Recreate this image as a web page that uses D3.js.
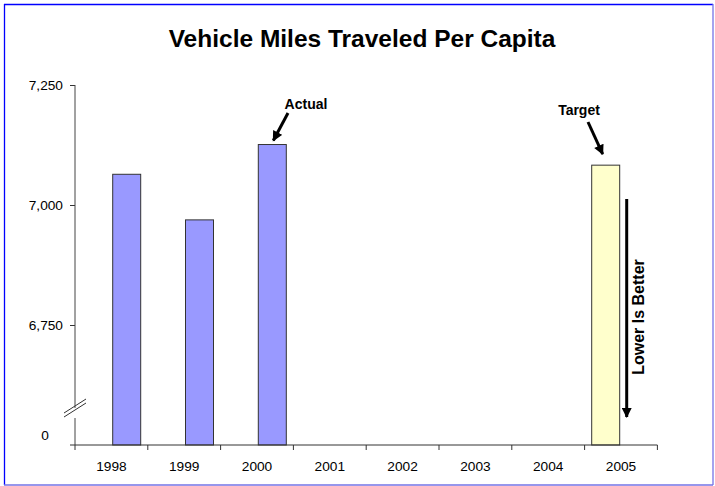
<!DOCTYPE html>
<html>
<head>
<meta charset="utf-8">
<script src="https://cdn.jsdelivr.net/npm/d3@7/dist/d3.min.js"></script>
<style>
  html, body { margin: 0; padding: 0; background: #fff; }
  svg { display: block; font-family: "Liberation Sans", Arial, sans-serif; }
</style>
</head>
<body>
<svg id="chart" width="715" height="486"></svg>
<script>
// Vehicle miles traveled per capita: actual values and the 2005 target
const years = ["1998", "1999", "2000", "2001", "2002", "2003", "2004", "2005"];
const actual = [7064, 6969, 7126, null, null, null, null, null];
const target = [null, null, null, null, null, null, null, 7083];
const seriesNames = ["Target", "Actual"];
const yTicks = [6750, 7000, 7250];
const yDomain = [6500, 7250];

const svg = d3.select("#chart");

// frame
svg.append("line").attr("x1", 4).attr("y1", 4.5).attr("x2", 713).attr("y2", 4.5).attr("stroke", "#0000ff").attr("stroke-width", 1.3);
svg.append("line").attr("x1", 4.5).attr("y1", 4).attr("x2", 4.5).attr("y2", 485).attr("stroke", "#0000ff").attr("stroke-width", 1.3);
svg.append("line").attr("x1", 4).attr("y1", 485).attr("x2", 713).attr("y2", 485).attr("stroke", "#7373e6").attr("stroke-width", 1.3);
svg.append("line").attr("x1", 713).attr("y1", 4).attr("x2", 713).attr("y2", 485).attr("stroke", "#7373e6").attr("stroke-width", 1.3);

// title
svg.append("text")
  .attr("x", 362).attr("y", 46.5)
  .attr("text-anchor", "middle")
  .attr("font-size", 24.5).attr("font-weight", "bold")
  .text("Vehicle Miles Traveled Per Capita");

const plot = { left: 75, right: 657.4, top: 85, bottom: 445 };

const x = d3.scaleBand().domain(years).range([plot.left, plot.right]).padding(0);
const xs = d3.scaleBand().domain(seriesNames).range([0, x.bandwidth()])
  .paddingInner(0.085).paddingOuter(0.232);
const y = d3.scaleLinear().domain(yDomain).range([plot.bottom, plot.top]);

// bars
const rows = years.map((yr, i) => ({ year: yr, Actual: actual[i], Target: target[i] }));
const fills = { Actual: "#9999ff", Target: "#ffffcc" };
const barData = [];
rows.forEach(r => seriesNames.forEach(s => { if (r[s] != null) barData.push({ year: r.year, series: s, value: r[s] }); }));

svg.append("g").selectAll("rect").data(barData).join("rect")
  .attr("x", d => x(d.year) + xs(d.series))
  .attr("y", d => y(d.value))
  .attr("width", xs.bandwidth())
  .attr("height", d => y(yDomain[0]) - y(d.value))
  .attr("fill", d => fills[d.series])
  .attr("stroke", "#333")
  .attr("stroke-width", 1);

// y axis
const yAxis = d3.axisLeft(y).tickValues(yTicks).tickSize(5).tickPadding(7)
  .tickFormat(d3.format(","));
const gy = svg.append("g").attr("transform", `translate(${plot.left},0)`).call(yAxis);
gy.select(".domain").remove();
gy.selectAll(".tick line").attr("stroke", "#333");
gy.selectAll(".tick text").attr("font-size", 13.7).attr("fill", "#000")
  .attr("font-family", "Liberation Sans, Arial, sans-serif");

// y axis line with a break near the bottom
const breakTop = 408, breakBottom = 418;
svg.append("line").attr("x1", plot.left).attr("x2", plot.left)
  .attr("y1", plot.top).attr("y2", breakTop).attr("stroke", "#444");
svg.append("line").attr("x1", plot.left).attr("x2", plot.left)
  .attr("y1", breakBottom).attr("y2", plot.bottom).attr("stroke", "#444");
[0, 4].forEach(off => {
  svg.append("line")
    .attr("x1", 64).attr("y1", 413 + off)
    .attr("x2", 86).attr("y2", 399 + off)
    .attr("stroke", "#333").attr("stroke-width", 1);
});
// bottom value label below the break
svg.append("text").attr("x", 45).attr("y", 440)
  .attr("text-anchor", "middle").attr("font-size", 13.7).text("0");

// x axis: ticks on the category boundaries
svg.append("line").attr("x1", 70).attr("x2", plot.right)
  .attr("y1", plot.bottom).attr("y2", plot.bottom).attr("stroke", "#333");
const boundaries = years.map(yr => x(yr)).concat([plot.right]);
svg.append("g").selectAll("line").data(boundaries).join("line")
  .attr("x1", d => d).attr("x2", d => d)
  .attr("y1", plot.bottom).attr("y2", plot.bottom + 5)
  .attr("stroke", "#333");
svg.append("g").selectAll("text").data(years).join("text")
  .attr("x", d => x(d) + x.bandwidth() / 2)
  .attr("y", 470.5)
  .attr("text-anchor", "middle")
  .attr("font-size", 13.7)
  .text(d => d);

// arrowhead marker
svg.append("defs").append("marker")
  .attr("id", "head").attr("viewBox", "0 0 10 10")
  .attr("refX", 9).attr("refY", 5)
  .attr("markerWidth", 3.6).attr("markerHeight", 3.4)
  .attr("orient", "auto")
  .append("path").attr("d", "M0,0 L10,5 L0,10 Z").attr("fill", "#000");

// annotations
const iActual = years.indexOf("2000");
const aX = x("2000") + xs("Actual") + xs.bandwidth() / 2;
svg.append("text").attr("x", 306).attr("y", 109).attr("text-anchor", "middle")
  .attr("font-size", 14).attr("font-weight", "bold").text("Actual");
svg.append("line").attr("x1", 288).attr("y1", 113)
  .attr("x2", aX + 1).attr("y2", y(actual[iActual]) - 4)
  .attr("stroke", "#000").attr("stroke-width", 3).attr("marker-end", "url(#head)");

const iTarget = years.indexOf("2005");
const tX = x("2005") + xs("Target") + xs.bandwidth() / 2;
svg.append("text").attr("x", 579).attr("y", 115).attr("text-anchor", "middle")
  .attr("font-size", 14).attr("font-weight", "bold").text("Target");
svg.append("line").attr("x1", 588).attr("y1", 122)
  .attr("x2", tX - 3).attr("y2", y(target[iTarget]) - 11)
  .attr("stroke", "#000").attr("stroke-width", 3).attr("marker-end", "url(#head)");

// direction note
svg.append("line").attr("x1", 626.7).attr("x2", 626.7)
  .attr("y1", 199).attr("y2", 417)
  .attr("stroke", "#000").attr("stroke-width", 3).attr("marker-end", "url(#head)");
svg.append("text")
  .attr("transform", "translate(643.5,317) rotate(-90)")
  .attr("text-anchor", "middle")
  .attr("font-size", 16).attr("font-weight", "bold")
  .text("Lower Is Better");
</script>
</body>
</html>
